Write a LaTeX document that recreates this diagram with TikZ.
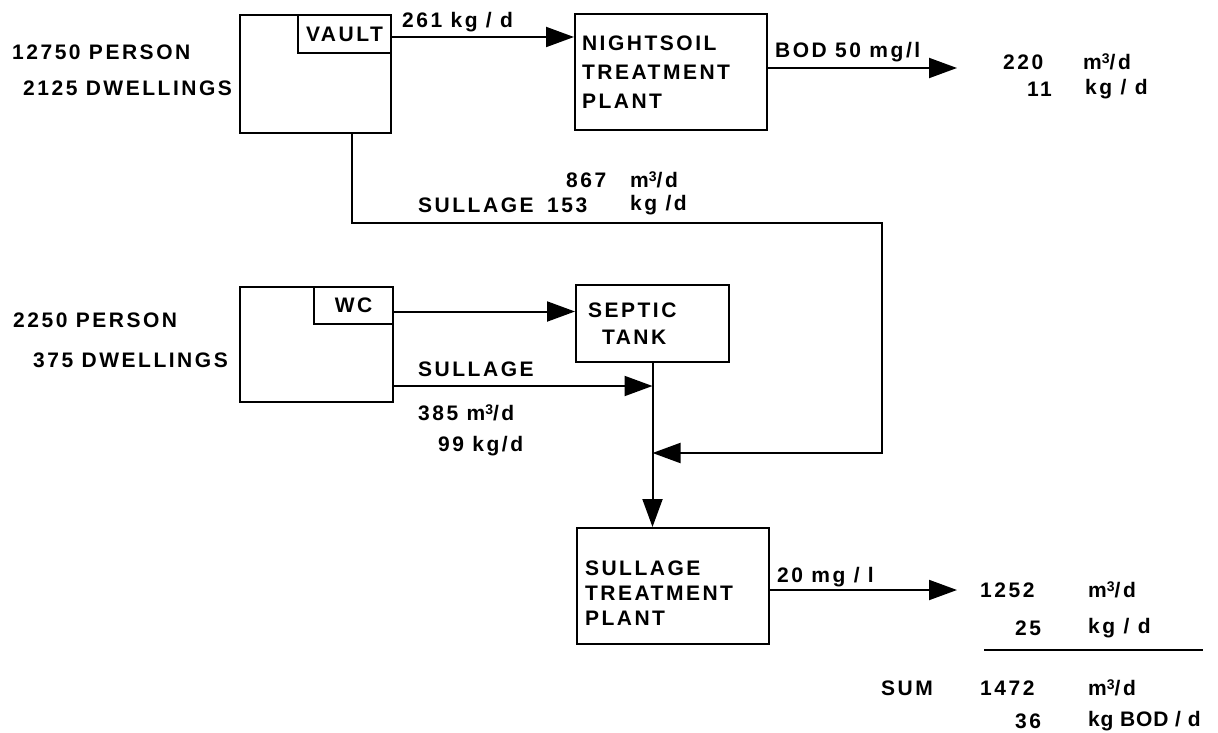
\documentclass[tikz,border=0pt]{standalone}
\usepackage{fontspec}
\setmainfont{Liberation Sans}[LetterSpace=12]
\usetikzlibrary{arrows.meta}
\newcommand{\mcube}{m\raisebox{6.5pt}{\fontsize{14}{14}\selectfont 3}}
\begin{document}
\begin{tikzpicture}[x=1pt,y=-1pt,
  every node/.style={font=\fontsize{21}{25}\selectfont\bfseries, inner sep=0pt},
  box/.style={draw, line width=2pt},
  lbl/.style={anchor=west},
  conn/.style={line width=2pt},
  arr/.style={line width=2pt, -{Triangle[length=28pt,width=20pt]}}]
\useasboundingbox (0,0) rectangle (1218,733);

% boxes
\node[box, minimum width=151pt, minimum height=118pt] (home1) at (315.5,74) {};
\node[box, minimum width=93pt, minimum height=38pt] (vault) at (344.5,34) {VAULT};
\node[box, minimum width=192pt, minimum height=116pt, text width=178pt, align=left, inner xsep=7pt,
      font=\fontsize{21}{29}\selectfont\bfseries] (nightsoil) at (671,72) {NIGHTSOIL\\TREATMENT\\PLANT};
\node[box, minimum width=153pt, minimum height=115pt] (home2) at (316.5,344.5) {};
\node[box, minimum width=79pt, minimum height=37pt] (wc) at (353.5,305.5) {WC};
\node[box, minimum width=153pt, minimum height=77pt, text width=129pt, align=left, inner xsep=12pt,
      font=\fontsize{21}{27}\selectfont\bfseries] (septic) at (652.5,323.5) {SEPTIC\\\hspace*{14pt}TANK};
\node[box, minimum width=192pt, minimum height=116pt, text width=176pt, align=left, inner xsep=8pt,
      font=\fontsize{21}{25}\selectfont\bfseries] (stp) at (673,586) {\rule{0pt}{29pt}SULLAGE\\TREATMENT\\PLANT};

% population labels
\node[lbl] (p1) at (12,52) {12750 PERSON};
\node[lbl] (d1) at (23,88) {2125 DWELLINGS};
\node[lbl] (p2) at (13,320) {2250 PERSON};
\node[lbl] (d2) at (33,360) {375 DWELLINGS};

% coordinates
\coordinate (o1) at (957,68);
\coordinate (o2) at (957,590);
\coordinate (bend) at (882,223);
\coordinate (ret) at (882,453);

% connectors
\draw[arr] ([yshift=-3pt]vault.east) -- ([yshift=-3pt]vault.east -| nightsoil.west);
\draw[arr] (nightsoil.east |- o1) -- (o1);
\draw[arr] ([xshift=36.5pt]home1.south) |- (bend) -- (ret) -- (ret -| septic.south);
\draw[arr] ([yshift=-6pt]wc.east) -- ([yshift=-6pt]wc.east -| septic.west);
\draw[arr] ([yshift=-41.5pt]home2.east) -- ([yshift=-41.5pt]home2.east -| septic.south);
\draw[arr] (septic.south) -- (septic.south |- stp.north);
\draw[arr] (stp.east |- o2) -- (o2);

% flow labels
\node[lbl] (l261) at (402,22) {261 kg / d};
\node[lbl] (lbod) at (775,52) {BOD 50 mg/l};
\node[lbl] (v220) at (1003,62) {220};
\node[lbl] (u220) at (1083,62) {\mcube/d};
\node[lbl] (v11) at (1027,89) {11};
\node[lbl] (u11) at (1085,89) {kg / d};
\node[lbl] (v867) at (566,180) {867};
\node[lbl] (u867) at (630,180) {\mcube/d};
\node[lbl] (lsul1) at (418,205) {SULLAGE};
\node[lbl] (v153) at (547,205) {153};
\node[lbl] (u153) at (630,205) {kg /d};
\node[lbl] (lsul2) at (418,369) {SULLAGE};
\node[lbl] (v385) at (418,413) {385 \mcube/d};
\node[lbl] (v99) at (438,446) {99 kg/d};
\node[lbl] (l20) at (777,577) {20 mg / l};
\node[lbl] (v1252) at (980,590) {1252};
\node[lbl] (u1252) at (1088,590) {\mcube/d};
\node[lbl] (v25) at (1015,628) {25};
\node[lbl] (u25) at (1088,628) {kg / d};
\draw[conn] (984,650) -- (1203,650);
\node[lbl] (lsum) at (881,688) {SUM};
\node[lbl] (v1472) at (980,688) {1472};
\node[lbl] (u1472) at (1088,688) {\mcube/d};
\node[lbl] (v36) at (1015,721) {36};
\node[lbl, font=\fontsize{21}{25}\selectfont\bfseries\addfontfeature{LetterSpace=4}] (u36) at (1088,721) {kg BOD / d};
\end{tikzpicture}
\end{document}
